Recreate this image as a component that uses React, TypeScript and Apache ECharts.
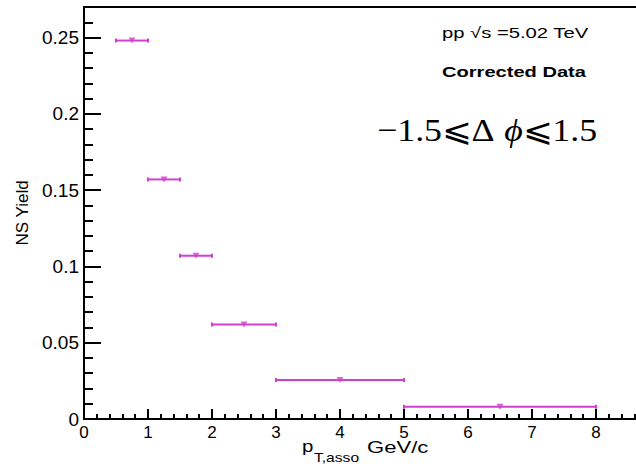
import React, { useEffect, useRef } from "react";
import * as echarts from "echarts";

const xCenter = [0.75, 1.25, 1.75, 2.5, 4.0, 6.5];
const xLow = [0.5, 1.0, 1.5, 2.0, 3.0, 5.0];
const xHigh = [1.0, 1.5, 2.0, 3.0, 5.0, 8.0];
const nsYield = [0.248, 0.157, 0.107, 0.062, 0.0255, 0.008];
const COLOR = "#d040d0";

export default function App() {
  const ref = useRef<HTMLDivElement>(null);
  useEffect(() => {
    if (!ref.current) return;
    const chart = echarts.init(ref.current, null, { renderer: "svg" });
    const barData = xLow.map((lo, i) => [lo, xHigh[i], nsYield[i]]);
    const pointData = xCenter.map((x, i) => [x, nsYield[i]]);
    const font = "Liberation Sans, Arial, Helvetica, sans-serif";
    const serif = "Liberation Serif, DejaVu Serif, serif";
    chart.setOption({
      animation: false,
      backgroundColor: "#fff",
      grid: {
        left: 84,
        top: 7,
        width: 576,
        height: 412,
        show: true,
        borderColor: "#000",
        borderWidth: 2,
        backgroundColor: "transparent",
      },
      xAxis: {
        type: "value",
        min: 0,
        max: 9,
        interval: 1,
        axisLine: { show: true, lineStyle: { color: "#000", width: 2 } },
        axisTick: { show: true, inside: true, length: 10, lineStyle: { color: "#000", width: 2 } },
        minorTick: { show: true, splitNumber: 5, length: 5, lineStyle: { color: "#000", width: 2 } },
        axisLabel: { color: "#000", fontSize: 17, fontFamily: font, margin: 5, showMaxLabel: false },
        splitLine: { show: false },
        minorSplitLine: { show: false },
      },
      yAxis: [
        {
          type: "value",
          min: 0,
          max: 0.27,
          interval: 0.05,
          axisLine: { show: true, lineStyle: { color: "#000", width: 2 } },
          axisTick: { show: true, inside: true, length: 17, lineStyle: { color: "#000", width: 2 } },
          axisLabel: { color: "#000", fontSize: 19, fontFamily: font, margin: 5, showMaxLabel: false },
          splitLine: { show: false },
          name: "NS Yield",
          nameLocation: "middle",
          nameRotate: 90,
          nameGap: 53,
          nameTextStyle: { color: "#000", fontSize: 17, fontFamily: font },
        },
        {
          type: "value",
          min: 0,
          max: 0.27,
          interval: 0.01,
          position: "left",
          axisLine: { show: false },
          axisTick: { show: true, inside: true, length: 9, lineStyle: { color: "#000", width: 2 } },
          axisLabel: { show: false },
          splitLine: { show: false },
        },
      ],
      series: [
        {
          type: "custom",
          xAxisIndex: 0,
          yAxisIndex: 0,
          data: barData,
          encode: { x: [0, 1], y: 2 },
          renderItem: (params: any, api: any) => {
            const lo = api.coord([api.value(0), api.value(2)]);
            const hi = api.coord([api.value(1), api.value(2)]);
            const st = { stroke: COLOR, lineWidth: 2 };
            return {
              type: "group",
              children: [
                { type: "line", shape: { x1: lo[0], y1: lo[1], x2: hi[0], y2: hi[1] }, style: st },
                { type: "line", shape: { x1: lo[0], y1: lo[1] - 2, x2: lo[0], y2: lo[1] + 2 }, style: st },
                { type: "line", shape: { x1: hi[0], y1: hi[1] - 2, x2: hi[0], y2: hi[1] + 2 }, style: st },
              ],
            };
          },
        },
        {
          type: "scatter",
          xAxisIndex: 0,
          yAxisIndex: 0,
          data: pointData,
          symbol: "triangle",
          symbolRotate: 180,
          symbolSize: [7, 6],
          itemStyle: { color: COLOR },
        },
      ],
      graphic: [
        {
          type: "text",
          x: 442,
          y: 33,
          scaleX: 1.35,
          style: { x: 0, y: 0, text: "pp √s =5.02 TeV", fontSize: 15, fontFamily: font, fill: "#000", textVerticalAlign: "middle" },
        },
        {
          type: "text",
          x: 442,
          y: 72,
          scaleX: 1.34,
          style: { x: 0, y: 0, text: "Corrected Data", fontSize: 15, fontWeight: "bold", fontFamily: font, fill: "#000", textVerticalAlign: "middle" },
        },
        {
          type: "text",
          x: 377,
          y: 130,
          scaleX: 1.12,
          style: {
            x: 0,
            y: 0,
            text: "{n|−1.5⩽Δ }{i|ϕ}{n|⩽1.5}",
            fill: "#000",
            textVerticalAlign: "middle",
            rich: {
              n: { fontSize: 32, fontFamily: serif, fill: "#000" },
              i: { fontSize: 32, fontFamily: serif, fontStyle: "italic", fill: "#000" },
            },
          },
        },
        {
          type: "text",
          x: 302,
          y: 446,
          scaleX: 1.2,
          style: { x: 0, y: 0, text: "p", fontSize: 17, fontFamily: font, fill: "#000", textVerticalAlign: "middle" },
        },
        {
          type: "text",
          x: 314,
          y: 458,
          scaleX: 1.3,
          style: { x: 0, y: 0, text: "T,asso", fontSize: 12, fontFamily: font, fill: "#000", textVerticalAlign: "middle" },
        },
        {
          type: "text",
          x: 367,
          y: 447,
          scaleX: 1.3,
          style: { x: 0, y: 0, text: "GeV/c", fontSize: 17, fontFamily: font, fill: "#000", textVerticalAlign: "middle" },
        },
      ],
    });
    return () => chart.dispose();
  }, []);
  return (
    <div style={{ position: "absolute", left: 0, top: 0, width: 636, height: 464, overflow: "hidden", background: "#fff" }}>
      <div ref={ref} style={{ width: 700, height: 464 }} />
    </div>
  );
}
